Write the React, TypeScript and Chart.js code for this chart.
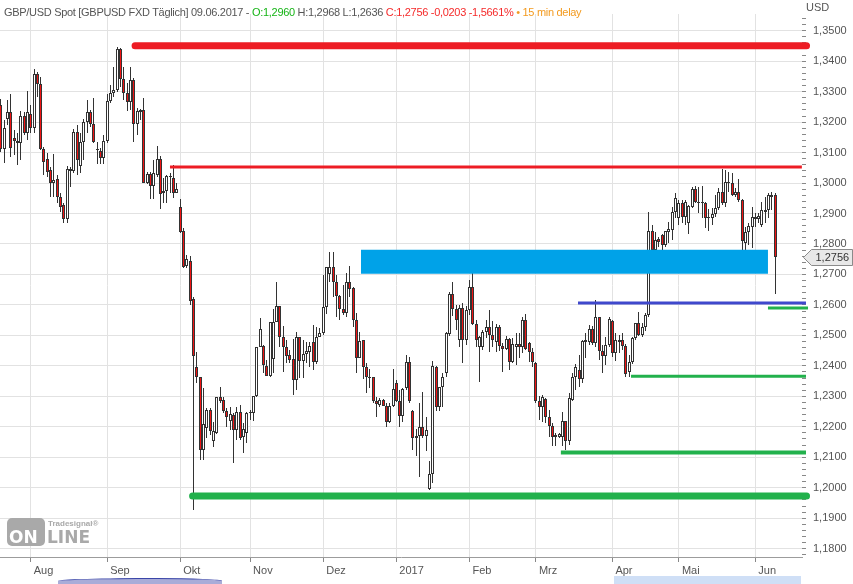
import { useEffect, useRef } from 'react';
import { Chart, registerables } from 'chart.js';

Chart.register(...registerables);

// ---------- data ----------
const monthLabels = ['Aug', 'Sep', 'Okt', 'Nov', 'Dez', '2017', 'Feb', 'Mrz', 'Apr', 'Mai', 'Jun'];
const monthStartIdx = [9, 32, 54, 75, 97, 119, 141, 161, 184, 204, 227];

const openVals = [
  1.3257, 1.3113, 1.3211, 1.3234, 1.3149, 1.3139, 1.3132, 1.3221, 1.3165, 1.3228,
  1.3182, 1.3359, 1.3326, 1.3113, 1.3080, 1.3044, 1.3001, 1.3014, 1.2955, 1.2929,
  1.2883, 1.3040, 1.3040, 1.3168, 1.3057, 1.3136, 1.3201, 1.3234, 1.3195, 1.3113,
  1.3106, 1.3083, 1.3139, 1.3270, 1.3297, 1.3306, 1.3441, 1.3343, 1.3297, 1.3267,
  1.3339, 1.3195, 1.3241, 1.3241, 1.3001, 1.3031, 1.2991, 1.3027, 1.3080, 1.2968,
  1.2975, 1.3024, 1.3017, 1.2968, 1.2922, 1.2843, 1.2728, 1.2745, 1.2620, 1.2397,
  1.2364, 1.2124, 1.2196, 1.2256, 1.2154, 1.2180, 1.2298, 1.2288, 1.2252, 1.2219,
  1.2239, 1.2190, 1.2249, 1.2167, 1.2180, 1.2246, 1.2246, 1.2302, 1.2462, 1.2466,
  1.2400, 1.2367, 1.2423, 1.2545, 1.2597, 1.2495, 1.2462, 1.2436, 1.2423, 1.2354,
  1.2495, 1.2416, 1.2439, 1.2446, 1.2479, 1.2413, 1.2495, 1.2508, 1.2594, 1.2702,
  1.2725, 1.2676, 1.2630, 1.2587, 1.2574, 1.2676, 1.2656, 1.2551, 1.2426, 1.2485,
  1.2397, 1.2364, 1.2364, 1.2285, 1.2272, 1.2288, 1.2269, 1.2216, 1.2269, 1.2344,
  1.2285, 1.2236, 1.2328, 1.2413, 1.2252, 1.2164, 1.2170, 1.2200, 1.2170, 1.1996,
  1.2045, 1.2397, 1.2265, 1.2331, 1.2377, 1.2505, 1.2637, 1.2587, 1.2485, 1.2590,
  1.2485, 1.2584, 1.2659, 1.2538, 1.2462, 1.2462, 1.2512, 1.2528, 1.2502, 1.2479,
  1.2528, 1.2466, 1.2456, 1.2489, 1.2413, 1.2462, 1.2472, 1.2462, 1.2551, 1.2476,
  1.2446, 1.2410, 1.2285, 1.2265, 1.2292, 1.2233, 1.2203, 1.2167, 1.2167, 1.2167,
  1.2219, 1.2154, 1.2288, 1.2364, 1.2387, 1.2357, 1.2479, 1.2479, 1.2521, 1.2476,
  1.2561, 1.2449, 1.2433, 1.2469, 1.2548, 1.2443, 1.2479, 1.2485, 1.2466, 1.2380,
  1.2413, 1.2492, 1.2541, 1.2502, 1.2528, 1.2568, 1.2843, 1.2781, 1.2817, 1.2830,
  1.2797, 1.2840, 1.2847, 1.2906, 1.2886, 1.2935, 1.2889, 1.2870, 1.2922, 1.2981,
  1.2939, 1.2935, 1.2935, 1.2886, 1.2886, 1.2899, 1.2919, 1.2971, 1.2935, 1.3004,
  1.3001, 1.2962, 1.2971, 1.2945, 1.2804, 1.2840, 1.2857, 1.2889, 1.2883, 1.2863,
  1.2906, 1.2912, 1.2955, 1.2960,
];
const highVals = [
  1.3277, 1.3208, 1.3274, 1.3293, 1.3175, 1.3165, 1.3237, 1.3234, 1.3303, 1.3257,
  1.3375, 1.3365, 1.3349, 1.3119, 1.3100, 1.3054, 1.3096, 1.3027, 1.2968, 1.2935,
  1.3057, 1.3054, 1.3178, 1.3192, 1.3165, 1.3211, 1.3274, 1.3241, 1.3280, 1.3136,
  1.3116, 1.3159, 1.3293, 1.3323, 1.3382, 1.3448, 1.3444, 1.3382, 1.3329, 1.3382,
  1.3346, 1.3247, 1.3244, 1.3280, 1.3037, 1.3037, 1.3077, 1.3123, 1.3090, 1.3017,
  1.3027, 1.3034, 1.3060, 1.3001, 1.2949, 1.2853, 1.2765, 1.2761, 1.2627, 1.2446,
  1.2364, 1.2328, 1.2262, 1.2262, 1.2216, 1.2298, 1.2331, 1.2298, 1.2262, 1.2265,
  1.2246, 1.2265, 1.2272, 1.2213, 1.2249, 1.2256, 1.2302, 1.2462, 1.2558, 1.2469,
  1.2420, 1.2545, 1.2587, 1.2676, 1.2597, 1.2531, 1.2485, 1.2453, 1.2489, 1.2512,
  1.2495, 1.2485, 1.2479, 1.2479, 1.2535, 1.2528, 1.2525, 1.2699, 1.2725, 1.2774,
  1.2774, 1.2699, 1.2633, 1.2666, 1.2705, 1.2728, 1.2659, 1.2574, 1.2512, 1.2485,
  1.2410, 1.2390, 1.2364, 1.2298, 1.2295, 1.2292, 1.2278, 1.2278, 1.2390, 1.2354,
  1.2321, 1.2328, 1.2436, 1.2430, 1.2256, 1.2193, 1.2278, 1.2315, 1.2233, 1.2088,
  1.2416, 1.2400, 1.2331, 1.2377, 1.2512, 1.2643, 1.2676, 1.2600, 1.2600, 1.2607,
  1.2597, 1.2683, 1.2705, 1.2551, 1.2498, 1.2518, 1.2551, 1.2584, 1.2548, 1.2538,
  1.2535, 1.2476, 1.2498, 1.2492, 1.2492, 1.2508, 1.2508, 1.2561, 1.2571, 1.2479,
  1.2459, 1.2413, 1.2302, 1.2305, 1.2295, 1.2256, 1.2213, 1.2180, 1.2180, 1.2249,
  1.2219, 1.2311, 1.2377, 1.2406, 1.2436, 1.2485, 1.2508, 1.2535, 1.2531, 1.2617,
  1.2561, 1.2469, 1.2495, 1.2561, 1.2551, 1.2508, 1.2502, 1.2508, 1.2472, 1.2436,
  1.2495, 1.2541, 1.2577, 1.2541, 1.2574, 1.2906, 1.2863, 1.2840, 1.2824, 1.2834,
  1.2843, 1.2873, 1.2922, 1.2968, 1.2945, 1.2945, 1.2945, 1.2929, 1.2988, 1.2991,
  1.2988, 1.2991, 1.2939, 1.2916, 1.2919, 1.2962, 1.2984, 1.3047, 1.3044, 1.3037,
  1.3034, 1.2984, 1.3014, 1.2949, 1.2857, 1.2870, 1.2922, 1.2903, 1.2903, 1.2939,
  1.2955, 1.2968, 1.2971, 1.2968,
];
const lowVals = [
  1.3103, 1.3067, 1.3192, 1.3086, 1.3093, 1.3060, 1.3077, 1.3159, 1.3142, 1.3165,
  1.3165, 1.3283, 1.3109, 1.3027, 1.3021, 1.2955, 1.2955, 1.2935, 1.2906, 1.2870,
  1.2870, 1.2988, 1.3034, 1.3027, 1.3034, 1.3077, 1.3165, 1.3185, 1.3132, 1.3063,
  1.3063, 1.3063, 1.3132, 1.3264, 1.3283, 1.3300, 1.3316, 1.3274, 1.3237, 1.3241,
  1.3136, 1.3159, 1.3208, 1.3001, 1.2998, 1.2949, 1.2949, 1.3021, 1.2916, 1.2935,
  1.2935, 1.2968, 1.2952, 1.2968, 1.2837, 1.2722, 1.2722, 1.2600, 1.1927, 1.2344,
  1.2091, 1.2091, 1.2164, 1.2173, 1.2134, 1.2177, 1.2278, 1.2246, 1.2200, 1.2190,
  1.2081, 1.2157, 1.2157, 1.2114, 1.2147, 1.2223, 1.2219, 1.2298, 1.2462, 1.2377,
  1.2367, 1.2364, 1.2377, 1.2545, 1.2462, 1.2380, 1.2410, 1.2410, 1.2305, 1.2321,
  1.2361, 1.2361, 1.2410, 1.2397, 1.2387, 1.2406, 1.2495, 1.2502, 1.2571, 1.2676,
  1.2627, 1.2561, 1.2551, 1.2568, 1.2561, 1.2627, 1.2528, 1.2377, 1.2426, 1.2357,
  1.2311, 1.2328, 1.2278, 1.2233, 1.2265, 1.2269, 1.2200, 1.2213, 1.2265, 1.2282,
  1.2200, 1.2216, 1.2321, 1.2278, 1.2124, 1.2104, 1.2036, 1.2164, 1.2121, 1.1993,
  1.2016, 1.2252, 1.2252, 1.2265, 1.2364, 1.2498, 1.2565, 1.2518, 1.2462, 1.2410,
  1.2469, 1.2566, 1.2535, 1.2462, 1.2347, 1.2453, 1.2492, 1.2446, 1.2462, 1.2446,
  1.2449, 1.2380, 1.2453, 1.2387, 1.2410, 1.2403, 1.2426, 1.2443, 1.2453, 1.2413,
  1.2397, 1.2278, 1.2223, 1.2216, 1.2213, 1.2167, 1.2137, 1.2137, 1.2164, 1.2137,
  1.2124, 1.2140, 1.2285, 1.2321, 1.2331, 1.2344, 1.2426, 1.2469, 1.2469, 1.2462,
  1.2420, 1.2377, 1.2403, 1.2462, 1.2430, 1.2416, 1.2443, 1.2453, 1.2364, 1.2364,
  1.2406, 1.2485, 1.2498, 1.2495, 1.2515, 1.2561, 1.2771, 1.2771, 1.2791, 1.2781,
  1.2791, 1.2804, 1.2814, 1.2886, 1.2863, 1.2870, 1.2863, 1.2834, 1.2919, 1.2935,
  1.2903, 1.2886, 1.2853, 1.2843, 1.2863, 1.2889, 1.2912, 1.2929, 1.2922, 1.2971,
  1.2958, 1.2955, 1.2939, 1.2781, 1.2781, 1.2797, 1.2788, 1.2857, 1.2870, 1.2857,
  1.2870, 1.2886, 1.2912, 1.2636,
];
const closeVals = [
  1.3113, 1.3182, 1.3234, 1.3116, 1.3139, 1.3132, 1.3221, 1.3165, 1.3234, 1.3182,
  1.3359, 1.3326, 1.3113, 1.3070, 1.3037, 1.3001, 1.3011, 1.2955, 1.2922, 1.2883,
  1.3047, 1.3047, 1.3168, 1.3077, 1.3136, 1.3201, 1.3234, 1.3195, 1.3136, 1.3109,
  1.3083, 1.3139, 1.3270, 1.3297, 1.3306, 1.3441, 1.3343, 1.3297, 1.3267, 1.3339,
  1.3195, 1.3237, 1.3234, 1.3001, 1.3031, 1.2991, 1.3034, 1.3080, 1.2965, 1.2975,
  1.3024, 1.3021, 1.2968, 1.2981, 1.2840, 1.2725, 1.2751, 1.2613, 1.2433, 1.2364,
  1.2124, 1.2209, 1.2256, 1.2187, 1.2187, 1.2298, 1.2285, 1.2252, 1.2233, 1.2242,
  1.2190, 1.2249, 1.2164, 1.2193, 1.2246, 1.2249, 1.2302, 1.2462, 1.2521, 1.2403,
  1.2367, 1.2545, 1.2545, 1.2597, 1.2495, 1.2462, 1.2433, 1.2420, 1.2354, 1.2495,
  1.2416, 1.2439, 1.2449, 1.2466, 1.2413, 1.2495, 1.2508, 1.2594, 1.2725, 1.2725,
  1.2676, 1.2630, 1.2587, 1.2574, 1.2676, 1.2653, 1.2551, 1.2426, 1.2482, 1.2397,
  1.2364, 1.2361, 1.2285, 1.2275, 1.2288, 1.2269, 1.2216, 1.2269, 1.2324, 1.2285,
  1.2236, 1.2324, 1.2413, 1.2285, 1.2164, 1.2170, 1.2200, 1.2170, 1.2190, 1.2045,
  1.2400, 1.2265, 1.2331, 1.2364, 1.2508, 1.2637, 1.2587, 1.2551, 1.2590, 1.2485,
  1.2584, 1.2659, 1.2538, 1.2485, 1.2495, 1.2512, 1.2528, 1.2502, 1.2485, 1.2528,
  1.2466, 1.2456, 1.2489, 1.2413, 1.2472, 1.2472, 1.2462, 1.2551, 1.2456, 1.2446,
  1.2413, 1.2285, 1.2265, 1.2298, 1.2233, 1.2203, 1.2167, 1.2173, 1.2177, 1.2219,
  1.2154, 1.2295, 1.2364, 1.2397, 1.2357, 1.2482, 1.2485, 1.2521, 1.2476, 1.2561,
  1.2449, 1.2433, 1.2469, 1.2554, 1.2443, 1.2485, 1.2485, 1.2466, 1.2374, 1.2413,
  1.2492, 1.2541, 1.2502, 1.2528, 1.2568, 1.2843, 1.2781, 1.2814, 1.2807, 1.2797,
  1.2843, 1.2850, 1.2906, 1.2952, 1.2935, 1.2889, 1.2939, 1.2925, 1.2981, 1.2939,
  1.2935, 1.2939, 1.2886, 1.2889, 1.2899, 1.2919, 1.2971, 1.2935, 1.3004, 1.3001,
  1.2962, 1.2971, 1.2945, 1.2811, 1.2840, 1.2860, 1.2889, 1.2883, 1.2893, 1.2912,
  1.2912, 1.2962, 1.2962, 1.2756,
];

// support / resistance levels (price, start index, end index)
const levelPrices = [1.3451, 1.3053, 1.2606, 1.2590, 1.2366, 1.2116, 1.1973];
const levelStartIdx = [40.4, 50.9, 173.65, 230.8, 189.6, 168.5, 57.7];
const levelEndIdx = [242.4, 241.0, 242.24, 242.85, 242.24, 242.24, 242.4];
// highlighted zone
const zonePrices = [1.2702, 1.2781];
const zoneIdx = [108.37, 230.8];

// ---------- styles ----------
const levelColors = ['#ED1C24', '#ED1C24', '#3F48CC', '#22B14C', '#22B14C', '#22B14C', '#22B14C'];
const levelWidths = [7, 3, 3, 3, 3, 4, 7];
const levelCaps = ['round', 'butt', 'butt', 'butt', 'butt', 'butt', 'round'];
const FONT = '"Liberation Sans", Arial, sans-serif';
const LOGO_GRAY = '#a9a9a9';

const fmt = (v: number) => v.toFixed(4).replace('.', ',');
const isMajor = (v: number) => Math.abs(v * 100 - Math.round(v * 100)) < 1e-6;

// snap candle elements to whole device pixels so that 1px wicks and borders stay crisp
const crispPlugin = {
  id: 'crispCandles',
  afterDatasetsUpdate(chart: any) {
    chart.data.datasets.forEach((ds: any, di: number) => {
      if (ds.type !== 'bar') return;
      const meta = chart.getDatasetMeta(di);
      meta.data.forEach((el: any) => {
        el.x = Math.floor(el.x) + 0.5;
        let y = Math.round(el.y);
        const base = Math.round(el.base);
        if (Math.abs(base - y) < 1) y = base - 1;
        el.y = y;
        el.base = base;
      });
    });
  },
};

const priceTagPlugin = {
  id: 'priceTag',
  afterDraw(chart: any) {
    const { ctx, chartArea } = chart;
    const y = chart.scales.y;
    const v = closeVals[closeVals.length - 1];
    const py = Math.round(y.getPixelForValue(v)) + 0.5;
    const x0 = chartArea.right + 1.5;
    ctx.save();
    ctx.beginPath();
    ctx.moveTo(x0, py);
    ctx.lineTo(x0 + 8, py - 8);
    ctx.lineTo(852.5, py - 8);
    ctx.lineTo(852.5, py + 8);
    ctx.lineTo(x0 + 8, py + 8);
    ctx.closePath();
    ctx.fillStyle = '#e8e8e8';
    ctx.fill();
    ctx.strokeStyle = '#8a8a8a';
    ctx.lineWidth = 1;
    ctx.stroke();
    ctx.fillStyle = '#333';
    ctx.font = '11px ' + FONT;
    ctx.textBaseline = 'middle';
    ctx.textAlign = 'left';
    ctx.fillText(fmt(v), x0 + 12, py + 0.5);
    ctx.restore();
  },
};

export default function App() {
  const ref = useRef<HTMLCanvasElement>(null);

  useEffect(() => {
    document.body.style.margin = '0';
    const canvas = ref.current;
    if (!canvas) return;

    const n = closeVals.length;
    const ids = Array.from({ length: n }, (_, i) => i);
    const wickData = ids.map((i) => ({ x: i, y: [lowVals[i], highVals[i]] }));
    const bodyData = ids.map((i) => ({ x: i, y: [openVals[i], closeVals[i]] }));
    const bodyFill = ids.map((i) => (closeVals[i] >= openVals[i] ? '#ffffff' : '#f01414'));

    const xMin = -0.235;
    const xMax = 241.04;
    const yMin = 1.17727;
    const yMax = 1.35548;

    const levelSets = levelPrices.map((p, k) => ({
      type: 'line',
      order: 0,
      data: [
        { x: levelStartIdx[k], y: p },
        { x: levelEndIdx[k], y: p },
      ],
      borderColor: levelColors[k],
      borderWidth: levelWidths[k],
      borderCapStyle: levelCaps[k],
      pointRadius: 0,
      fill: false,
      clip: false,
    }));

    const chart = new Chart(canvas, {
      type: 'bar',
      data: {
        datasets: [
          {
            type: 'bar',
            order: 3,
            data: wickData,
            backgroundColor: '#333333',
            borderWidth: 0,
            barThickness: 1,
            inflateAmount: 0,
            grouped: false,
          },
          {
            type: 'bar',
            order: 2,
            data: bodyData,
            backgroundColor: bodyFill,
            borderColor: '#333333',
            borderWidth: 1,
            borderSkipped: false,
            barThickness: 3,
            minBarLength: 1,
            inflateAmount: 0,
            grouped: false,
          },
          {
            type: 'line',
            order: 1,
            data: [
              { x: zoneIdx[0], y: zonePrices[0] },
              { x: zoneIdx[1], y: zonePrices[0] },
            ],
            borderWidth: 0,
            borderColor: 'rgba(0,0,0,0)',
            backgroundColor: '#00A2E8',
            pointRadius: 0,
            fill: { target: { value: zonePrices[1] } },
          },
          ...levelSets,
        ] as any,
      },
      options: {
        responsive: false,
        animation: false,
        devicePixelRatio: 1,
        events: [],
        layout: { padding: { top: 14, left: 0, right: 0, bottom: 0 } },
        plugins: {
          legend: { display: false },
          tooltip: { enabled: false },
          title: { display: false },
          filler: { drawTime: 'beforeDatasetDraw' },
        },
        scales: {
          x: {
            type: 'linear',
            min: xMin,
            max: xMax,
            offset: false,
            afterBuildTicks: (s: any) => {
              s.ticks = monthStartIdx.map((v) => ({ value: v }));
            },
            afterFit: (s: any) => {
              s.height = 27;
            },
            ticks: {
              autoSkip: false,
              maxRotation: 0,
              minRotation: 0,
              align: 'start',
              labelOffset: 3,
              padding: 2,
              color: '#555',
              font: { family: FONT, size: 11 },
              callback: (v: number) => {
                const k = monthStartIdx.indexOf(v);
                return k >= 0 ? monthLabels[k] : '';
              },
            },
            grid: { color: '#e2e2e2', tickColor: '#888', tickLength: 5, offset: false },
            border: { display: true, color: '#9c9c9c' },
          },
          y: {
            type: 'linear',
            position: 'right',
            min: yMin,
            max: yMax,
            beginAtZero: false,
            afterBuildTicks: (s: any) => {
              const t: any[] = [];
              for (let k = Math.ceil(s.min * 500); k <= Math.floor(s.max * 500); k++) {
                t.push({ value: k / 500 });
              }
              s.ticks = t;
            },
            afterFit: (s: any) => {
              s.width = 51;
            },
            ticks: {
              autoSkip: false,
              padding: 7,
              color: '#555',
              font: { family: FONT, size: 11 },
              callback: (v: number) => (isMajor(v) ? fmt(v) : ''),
            },
            grid: {
              color: (c: any) => (c.tick && isMajor(c.tick.value) ? '#e2e2e2' : 'rgba(0,0,0,0)'),
              tickColor: '#888',
              tickLength: 4,
            },
            border: { display: false },
          },
        },
      } as any,
      plugins: [crispPlugin, priceTagPlugin],
    });

    return () => chart.destroy();
  }, []);

  return (
    <div style={{ position: 'absolute', left: 0, top: 0, width: 853, height: 584, background: '#fff', overflow: 'hidden' }}>
      <canvas ref={ref} width={853} height={584} style={{ position: 'absolute', left: 0, top: 0, width: 853, height: 584 }} />
      <div
        style={{
          position: 'absolute',
          left: 4,
          top: 6,
          fontFamily: FONT,
          fontSize: 11,
          letterSpacing: '-0.3px',
          lineHeight: '13px',
          color: '#555',
          whiteSpace: 'nowrap',
        }}
      >
        GBP/USD Spot [GBPUSD FXD Täglich] 09.06.2017 - <span style={{ color: '#16b416' }}>O:1,2960</span> H:1,2968 L:1,2636{' '}
        <span style={{ color: '#f52a2a' }}>C:1,2756 -0,0203 -1,5661%</span>{' '}
        <span style={{ color: '#f39a1e' }}>• 15 min delay</span>
      </div>
      <div style={{ position: 'absolute', left: 806, top: 1, fontFamily: FONT, fontSize: 11, color: '#555' }}>USD</div>
      {/* watermark */}
      <div style={{ position: 'absolute', left: 7, top: 518, width: 38, height: 28, background: LOGO_GRAY, borderRadius: 5 }} />
      <div
        style={{
          position: 'absolute',
          left: 9,
          top: 528,
          fontFamily: '"DejaVu Sans", sans-serif',
          fontWeight: 'bold',
          fontSize: 17,
          lineHeight: '18px',
          color: '#fff',
          letterSpacing: '0px',
        }}
      >
        ON
      </div>
      <div
        style={{
          position: 'absolute',
          left: 47,
          top: 528,
          fontFamily: '"DejaVu Sans", sans-serif',
          fontWeight: 'bold',
          fontSize: 17,
          lineHeight: '18px',
          color: LOGO_GRAY,
        }}
      >
        LINE
      </div>
      <div style={{ position: 'absolute', left: 48, top: 519, fontFamily: FONT, fontWeight: 'bold', fontSize: 8, lineHeight: '9px', color: LOGO_GRAY }}>
        Tradesignal®
      </div>
      {/* navigator strip */}
      <div
        style={{
          position: 'absolute',
          left: 58,
          top: 578,
          width: 164,
          height: 6,
          background: '#a9acd8',
          borderTop: '1px solid #3a46a8',
          borderTopLeftRadius: '60% 3px',
          borderTopRightRadius: '40% 3px',
        }}
      />
      <div style={{ position: 'absolute', left: 614, top: 576, width: 187, height: 8, background: '#cfdff6' }} />
    </div>
  );
}
